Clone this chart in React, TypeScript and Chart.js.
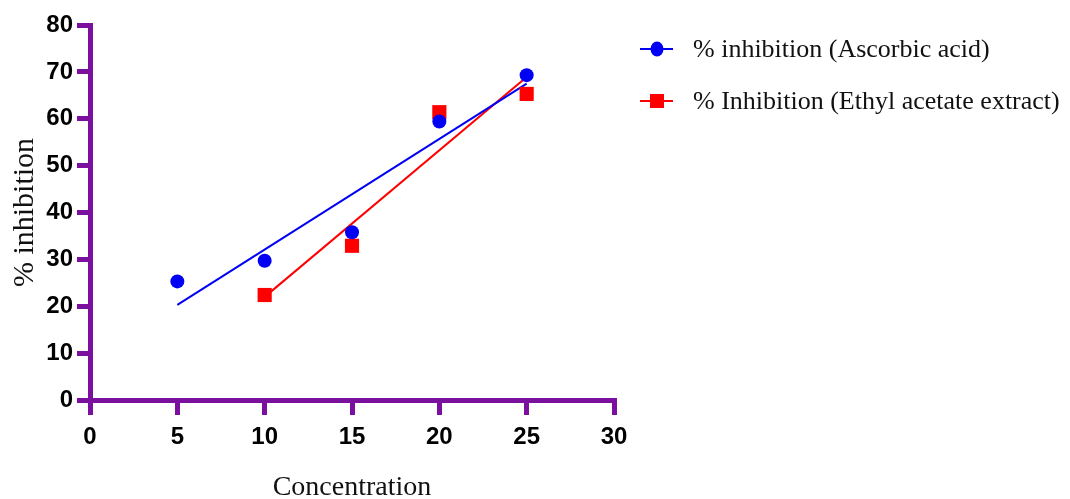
import React, { useEffect, useRef } from "react";
import { Chart, registerables } from "chart.js";

Chart.register(...registerables);

const ascorbicConc = [5, 10, 15, 20, 25];
const ascorbicValues = [25.3, 29.7, 35.8, 59.4, 69.3];
const extractConc = [10, 15, 20, 25];
const extractValues = [22.4, 32.9, 61.4, 65.3];
const ascorbicFitX = [5, 25];
const ascorbicFitY = [20.3, 67.5];
const extractFitX = [10, 25];
const extractFitY = [22.0, 68.9];
const seriesLabels = ["% inhibition (Ascorbic acid)", "% Inhibition (Ethyl acetate extract)"];
const xTitle = "Concentration";
const yTitle = "% inhibition";

const PURPLE = "#7B0F9E";
const BLUE = "#0000F5";
const RED = "#FF0000";

const toPts = (xs: number[], ys: number[]) => xs.map((x, i) => ({ x, y: ys[i] }));

const legendPlugin = {
  id: "customLegend",
  afterDraw(chart: any) {
    const ctx = chart.ctx;
    const items = chart.data.datasets.filter((d: any) => d.showInLegend);
    items.forEach((d: any, i: number) => {
      const y = 49 + i * 52;
      ctx.save();
      ctx.strokeStyle = d.borderColor;
      ctx.lineWidth = 2;
      ctx.beginPath();
      ctx.moveTo(640, y);
      ctx.lineTo(673, y);
      ctx.stroke();
      ctx.fillStyle = d.backgroundColor;
      if (d.pointStyle === "rect") {
        ctx.fillRect(657 - 7, y - 7, 14, 14);
      } else {
        ctx.beginPath();
        ctx.ellipse(657, y, 6.5, 7.5, 0, 0, Math.PI * 2);
        ctx.fill();
      }
      ctx.fillStyle = "#111";
      ctx.font = "26px 'Liberation Serif'";
      ctx.textBaseline = "middle";
      ctx.textAlign = "left";
      ctx.fillText(d.label, 693, y + 1);
      ctx.restore();
    });
  },
};

export default function App() {
  const ref = useRef<HTMLCanvasElement>(null);
  useEffect(() => {
    if (!ref.current) return;
    const chart = new Chart(ref.current, {
      type: "scatter",
      data: {
        datasets: [
          {
            label: seriesLabels[0],
            data: toPts(ascorbicConc, ascorbicValues),
            backgroundColor: BLUE,
            borderColor: BLUE,
            pointStyle: "circle",
            pointRadius: 7,
            pointBorderWidth: 0,
            showLine: false,
            showInLegend: true,
            order: 1,
          } as any,
          {
            label: seriesLabels[1],
            data: toPts(extractConc, extractValues),
            backgroundColor: RED,
            borderColor: RED,
            pointStyle: "rect",
            pointRadius: 10,
            pointBorderWidth: 0,
            showLine: false,
            showInLegend: true,
            order: 2,
          } as any,
          {
            label: "fitA",
            data: toPts(ascorbicFitX, ascorbicFitY),
            borderColor: BLUE,
            backgroundColor: BLUE,
            borderWidth: 2,
            pointRadius: 0,
            showLine: true,
            order: 3,
          } as any,
          {
            label: "fitB",
            data: toPts(extractFitX, extractFitY),
            borderColor: RED,
            backgroundColor: RED,
            borderWidth: 2,
            pointRadius: 0,
            showLine: true,
            order: 4,
          } as any,
        ],
      },
      options: {
        animation: false,
        responsive: false,
        maintainAspectRatio: false,
        layout: { padding: { top: 25, right: 456, bottom: 0, left: 0 } },
        plugins: { legend: { display: false }, tooltip: { enabled: false } },
        scales: {
          x: {
            type: "linear",
            min: 0,
            max: 30,
            ticks: {
              stepSize: 5,
              color: "#000",
              font: { family: "'Liberation Sans'", size: 24, weight: "bold" },
              padding: 8,
            },
            grid: {
              drawOnChartArea: false,
              drawTicks: true,
              tickLength: 15,
              color: PURPLE,
              lineWidth: 5,
            },
            border: { color: PURPLE, width: 5 },
            title: {
              display: true,
              text: xTitle,
              color: "#111",
              font: { family: "'Liberation Serif'", size: 28, lineHeight: 0.8 },
              padding: { top: 0, bottom: 0 },
            },
            afterFit: (s: any) => {
              s.height = 99;
            },
          },
          y: {
            type: "linear",
            min: 0,
            max: 80,
            ticks: {
              stepSize: 10,
              color: "#000",
              font: { family: "'Liberation Sans'", size: 24, weight: "bold" },
              padding: 4,
            },
            grid: {
              drawOnChartArea: false,
              drawTicks: true,
              tickLength: 13,
              color: PURPLE,
              lineWidth: 5,
            },
            border: { color: PURPLE, width: 5 },
            title: {
              display: true,
              text: yTitle,
              color: "#111",
              font: { family: "'Liberation Serif'", size: 30, lineHeight: 1.2 },
              padding: { top: 7, bottom: 0 },
            },
            afterFit: (s: any) => {
              s.width = 90;
            },
          },
        },
      },
      plugins: [legendPlugin],
    });
    return () => chart.destroy();
  }, []);
  return (
    <div style={{ position: "fixed", left: 0, top: 0, width: 1070, height: 499, background: "#fff" }}>
      <canvas ref={ref} width={1070} height={499} style={{ width: 1070, height: 499 }} />
    </div>
  );
}
